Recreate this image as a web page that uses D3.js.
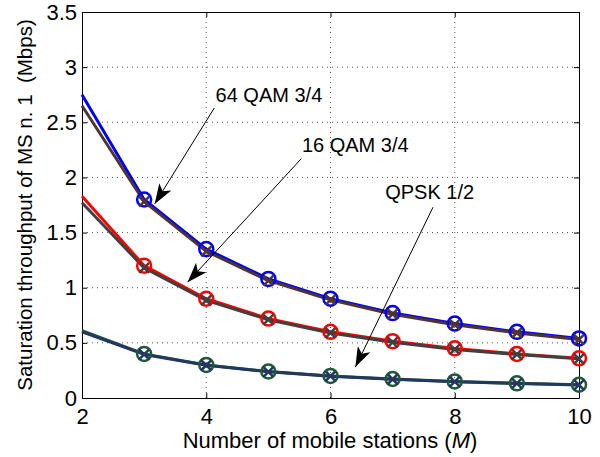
<!DOCTYPE html>
<html>
<head>
<meta charset="utf-8">
<script src="https://cdn.jsdelivr.net/npm/d3@7"></script>
<style>
  body { margin: 0; background: #fff; }
  svg { font-family: "Liberation Sans", Arial, Helvetica, sans-serif; }
</style>
</head>
<body>
<svg></svg>
<script>
// Data
const stations = [2, 3, 4, 5, 6, 7, 8, 9, 10];
const qam64Model = [2.75, 1.8, 1.35, 1.08, 0.9, 0.77, 0.675, 0.6, 0.54];
const qam64Sim = [2.65, 1.78, 1.33, 1.065, 0.89, 0.76, 0.665, 0.59, 0.53];
const qam16Model = [1.83, 1.2, 0.9, 0.72, 0.6, 0.515, 0.45, 0.4, 0.36];
const qam16Sim = [1.77, 1.18, 0.885, 0.71, 0.59, 0.505, 0.44, 0.395, 0.355];
const qpskModel = [0.61, 0.4, 0.3, 0.24, 0.2, 0.172, 0.15, 0.133, 0.12];
const qpskSim = [0.6, 0.395, 0.297, 0.237, 0.198, 0.17, 0.148, 0.132, 0.118];
const xTicks = [2, 4, 6, 8, 10];
const yTicks = [0, 0.5, 1, 1.5, 2, 2.5, 3, 3.5];

const series = [
  { vals: qam64Model, color: "#0000ff", mark: "o", w: 3 },
  { vals: qam64Sim, color: "#4f3530", mark: "x", w: 3 },
  { vals: qam16Model, color: "#ff0000", mark: "o", w: 3 },
  { vals: qam16Sim, color: "#404040", mark: "x", w: 3 },
  { vals: qpskModel, color: "#1f5a3a", mark: "o", w: 3 },
  { vals: qpskSim, color: "#23385e", mark: "x", w: 3 }
];

// annotations: label, text pos (in data units), arrow tail, arrow tip
const notes = [
  { text: "64 QAM 3/4", tx: 4.15, ty: 2.685, from: [4.13, 2.63], to: [3.17, 1.76] },
  { text: "16 QAM 3/4", tx: 5.54, ty: 2.23, from: [5.53, 2.17], to: [3.7, 1.05] },
  { text: "QPSK 1/2", tx: 6.88, ty: 1.805, from: [7.65, 1.73], to: [6.4, 0.28] }
];

let width = 600;
let height = 457;
let m = { left: 82, right: 21, top: 12, bottom: 59 };
let svg = d3.select("svg").attr("width", width).attr("height", height);

let x = d3.scaleLinear().domain([2, 10]).range([m.left, width - m.right]);
let y = d3.scaleLinear().domain([0, 3.5]).range([height - m.bottom, m.top]);

// grid
let grid = svg.append("g").attr("stroke", "#555").attr("stroke-width", 1)
  .attr("stroke-dasharray", "1,4");
grid.selectAll(".gx").data(xTicks.slice(1, -1)).enter().append("line")
  .attr("x1", (d) => x(d)).attr("x2", (d) => x(d))
  .attr("y1", y(0)).attr("y2", y(3.5));
grid.selectAll(".gy").data(yTicks.slice(1, -1)).enter().append("line")
  .attr("y1", (d) => y(d)).attr("y2", (d) => y(d))
  .attr("x1", x(2)).attr("x2", x(10));

// axes, ticks pointing inward like matlab
let bottomAxis = svg.append("g")
  .attr("transform", "translate(0," + y(0) + ")")
  .call(d3.axisBottom(x).tickValues(xTicks).tickSizeInner(-5).tickSizeOuter(0).tickPadding(10));
let topAxis = svg.append("g")
  .attr("transform", "translate(0," + y(3.5) + ")")
  .call(d3.axisTop(x).tickValues(xTicks).tickSizeInner(-5).tickSizeOuter(0).tickFormat(""));
let leftAxis = svg.append("g")
  .attr("transform", "translate(" + x(2) + ",0)")
  .call(d3.axisLeft(y).tickValues(yTicks).tickSizeInner(-5).tickSizeOuter(0).tickPadding(5)
    .tickFormat((d) => d3.format("")(d)));
let rightAxis = svg.append("g")
  .attr("transform", "translate(" + x(10) + ",0)")
  .call(d3.axisRight(y).tickValues(yTicks).tickSizeInner(-5).tickSizeOuter(0).tickFormat(""));

[bottomAxis, topAxis, leftAxis, rightAxis].forEach((a) => {
  a.selectAll("path, line").attr("stroke", "#000").attr("stroke-width", 1);
  a.selectAll("text").attr("font-size", 22).attr("fill", "#000")
    .attr("font-family", "Liberation Sans, Arial, sans-serif");
});

// lines and markers
let line = d3.line().x((d, i) => x(stations[i])).y((d) => y(d));
series.forEach((s) => {
  svg.append("path").datum(s.vals)
    .attr("fill", "none").attr("stroke", s.color).attr("stroke-width", s.w)
    .attr("stroke-linejoin", "round")
    .attr("d", line);
});
series.forEach((s) => {
  let pts = s.vals.map((v, i) => [stations[i], v]).slice(1);
  if (s.mark === "o") {
    svg.append("g").selectAll("circle").data(pts).enter().append("circle")
      .attr("cx", (d) => x(d[0])).attr("cy", (d) => y(d[1])).attr("r", 7)
      .attr("fill", "none").attr("stroke", s.color).attr("stroke-width", 2.5);
  } else {
    svg.append("g").selectAll("path").data(pts).enter().append("path")
      .attr("d", (d) => {
        let cx = x(d[0]), cy = y(d[1]), k = 5;
        return "M" + (cx - k) + "," + (cy - k) + "L" + (cx + k) + "," + (cy + k) +
          "M" + (cx - k) + "," + (cy + k) + "L" + (cx + k) + "," + (cy - k);
      })
      .attr("stroke", s.color).attr("stroke-width", 2.5);
  }
});

// arrow head
svg.append("defs").append("marker")
  .attr("id", "head").attr("viewBox", "0 0 20 14")
  .attr("refX", 20).attr("refY", 7)
  .attr("markerWidth", 20).attr("markerHeight", 14)
  .attr("markerUnits", "userSpaceOnUse").attr("orient", "auto")
  .append("path").attr("d", "M0,0 L20,7 L0,14 L5,7 Z").attr("fill", "#000");

// annotations
notes.forEach((n) => {
  svg.append("line")
    .attr("x1", x(n.from[0])).attr("y1", y(n.from[1]))
    .attr("x2", x(n.to[0])).attr("y2", y(n.to[1]))
    .attr("stroke", "#000").attr("stroke-width", 1)
    .attr("marker-end", "url(#head)");
  svg.append("text").attr("x", x(n.tx)).attr("y", y(n.ty))
    .attr("font-size", 20).text(n.text);
});

// axis labels
let xl = svg.append("text").attr("x", 330).attr("y", 448)
  .attr("text-anchor", "middle").attr("font-size", 22);
xl.append("tspan").text("Number of mobile stations (");
xl.append("tspan").attr("font-style", "italic").text("M");
xl.append("tspan").text(")");

svg.append("text")
  .attr("transform", "translate(32," + 205 + ") rotate(-90)")
  .attr("text-anchor", "middle").attr("font-size", 20.5)
  .style("white-space", "pre")
  .text("Saturation throughput of MS n. 1  (Mbps)");
</script>
</body>
</html>
